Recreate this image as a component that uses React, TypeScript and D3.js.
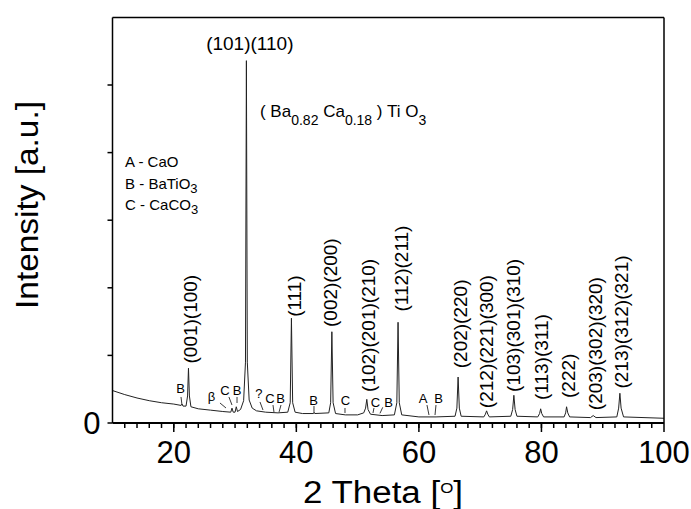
import React from "react";
import * as d3 from "d3";

// XRD pattern: [2θ, intensity]
const pattern: [number, number][] = [
  [10, 0.48], [12, 0.42], [14, 0.37], [16, 0.33], [18, 0.3], [20, 0.28],
  [21.2, 0.26], [21.35, 0.28], [21.5, 0.25], [22.0, 0.25], [22.25, 0.4], [22.4, 0.81],
  [22.55, 0.4], [22.8, 0.24], [24, 0.21], [26, 0.19], [28, 0.17], [29.3, 0.16],
  [29.5, 0.22], [29.7, 0.16], [30.0, 0.16], [30.2, 0.24], [30.4, 0.17], [30.9, 0.2],
  [31.4, 0.33], [31.7, 0.9], [31.85, 5.36], [32.0, 0.9], [32.3, 0.34], [32.8, 0.22],
  [33.5, 0.18], [35, 0.16], [37, 0.15], [38.6, 0.16], [39.0, 0.3], [39.2, 1.55],
  [39.4, 0.3], [39.8, 0.16], [41, 0.14], [42.8, 0.14], [42.9, 0.16], [43.0, 0.14],
  [45.3, 0.15], [45.6, 0.3], [45.8, 1.35], [46.0, 0.3], [46.4, 0.14], [48, 0.12],
  [50, 0.12], [51.0, 0.15], [51.3, 0.22], [51.5, 0.35], [51.7, 0.2], [52.1, 0.13],
  [54, 0.11], [56.0, 0.12], [56.4, 0.3], [56.6, 1.49], [56.8, 0.3], [57.2, 0.12],
  [60, 0.09], [62.8, 0.09], [65.9, 0.1], [66.2, 0.22], [66.4, 0.68], [66.6, 0.22],
  [66.9, 0.1], [70.6, 0.09], [70.85, 0.13], [71.05, 0.18], [71.25, 0.13], [71.5, 0.09],
  [75.0, 0.1], [75.3, 0.2], [75.5, 0.41], [75.7, 0.2], [76.0, 0.1], [79.4, 0.09],
  [79.7, 0.14], [79.87, 0.21], [80.05, 0.14], [80.35, 0.09], [83.7, 0.09], [83.95, 0.15],
  [84.1, 0.24], [84.3, 0.15], [84.6, 0.09], [88.0, 0.08], [88.45, 0.11], [88.9, 0.08],
  [92.3, 0.09], [92.6, 0.22], [92.8, 0.44], [93.0, 0.22], [93.4, 0.09], [100, 0.07],
];

// Vertical (hkl) labels: text, 2θ centre, intensity at the label's lower end
const hklTexts = [
  "(001)(100)", "(111)", "(002)(200)", "(102)(201)(210)", "(112)(211)", "(202)(220)",
  "(212)(221)(300)", "(103)(301)(310)", "(113)(311)", "(222)", "(203)(302)(320)", "(213)(312)(321)",
];
const hklTheta = [22.78, 39.65, 45.63, 51.75, 57.19, 66.71, 71.06, 75.4, 80.04, 84.38, 88.74, 93.09];
const hklBase = [0.88, 1.57, 1.42, 0.46, 1.65, 0.81, 0.22, 0.46, 0.34, 0.37, 0.19, 0.51];

// Main peak label (horizontal)
const mainLabel = { text: "(101)(110)", theta: 32.41, level: 5.52 };

// Phase markers: text, label 2θ, label level, leader from (t1,i1) to (t2,i2)
const markerTexts = ["B", "β", "C", "B", "?", "C", "B", "B", "C", "C", "B", "A", "B"];
const markerTheta = [21.1, 26.16, 28.36, 30.32, 33.9, 35.7, 37.41, 42.8, 48.02, 52.92, 55.04, 60.67, 63.2];
const markerLevel = [0.44, 0.33, 0.41, 0.41, 0.37, 0.3, 0.3, 0.27, 0.27, 0.24, 0.24, 0.3, 0.3];
const leaderFrom: [number, number][] = [
  [21.18, 0.385], [27.54, 0.296], [29.0, 0.385], [30.32, 0.385], [34.07, 0.311], [36.19, 0.266],
  [37.5, 0.266], [42.88, 0.251], [47.94, 0.222], [52.67, 0.222], [54.1, 0.232], [61.32, 0.266], [62.79, 0.266],
];
const leaderTo: [number, number][] = [
  [21.34, 0.266], [28.52, 0.222], [29.5, 0.266], [30.32, 0.296], [34.56, 0.192], [36.35, 0.163],
  [37.18, 0.163], [42.88, 0.163], [47.94, 0.148], [52.51, 0.148], [53.65, 0.143], [61.65, 0.118], [62.63, 0.118],
];

// Legend of phases
const legendLetters = ["A", "B", "C"];
const legendNames = [["CaO", ""], ["BaTiO", "3"], ["CaCO", "3"]];

const xMajorTicks = [20, 40, 60, 80, 100];
const xMinorTicks = d3.range(12, 100, 2);
const yTicks = [0, 1, 2, 3, 4, 5];
const yTickLabels = ["0"];

const W = 691;
const H = 509;
const FONT = "'Liberation Sans', Arial, sans-serif";

export default function App() {
  const x = d3.scaleLinear().domain([10, 100]).range([112.5, 664]);
  const y = d3.scaleLinear().domain([0, 6]).range([423, 17.4]);
  const line = d3
    .line<[number, number]>()
    .x((d) => x(d[0]))
    .y((d) => y(d[1]));

  return (
    <svg
      width={W}
      height={H}
      style={{ position: "absolute", left: 0, top: 0, background: "#fff" }}
      fontFamily={FONT}
    >
      <rect x={0} y={0} width={W} height={H} fill="#fff" />
      {/* pattern */}
      <path d={line(pattern) || ""} fill="none" stroke="#222" strokeWidth={1} />

      {/* frame */}
      <line x1={x(10)} x2={x(100)} y1={y(6)} y2={y(6)} stroke="#000" strokeWidth={1.5} />
      <line x1={x(100)} x2={x(100)} y1={y(6)} y2={y(0)} stroke="#000" strokeWidth={1.5} />
      <line x1={x(10)} x2={x(10)} y1={y(6)} y2={y(0)} stroke="#000" strokeWidth={1.5} />
      <line x1={x(10)} x2={x(100)} y1={y(0)} y2={y(0)} stroke="#000" strokeWidth={2} />

      {/* x ticks */}
      {xMinorTicks.map((t) => (
        <line key={"mi" + t} x1={x(t)} x2={x(t)} y1={y(0)} y2={y(0) + 5} stroke="#000" strokeWidth={1.5} />
      ))}
      {xMajorTicks.map((t) => (
        <g key={"ma" + t}>
          <line x1={x(t)} x2={x(t)} y1={y(0)} y2={y(0) + 9} stroke="#000" strokeWidth={1.5} />
          <text x={x(t)} y={y(0) + 40} textAnchor="middle" fontSize={31} fill="#000">
            {t}
          </text>
        </g>
      ))}
      {/* y ticks */}
      {yTicks.map((t) => (
        <line key={"y" + t} x1={x(10) - 5} x2={x(10)} y1={y(t)} y2={y(t)} stroke="#000" strokeWidth={1.5} />
      ))}
      {yTickLabels.map((l, i) => (
        <text key={"yl" + i} x={x(10) - 12} y={y(+l) + 11} textAnchor="end" fontSize={31} fill="#000">
          {l}
        </text>
      ))}

      {/* axis titles */}
      <text x={303} y={503} fontSize={31} fill="#000" textLength={160} lengthAdjust="spacingAndGlyphs">
        2 Theta [<tspan fontSize={15} dy={-10}>O</tspan>
        <tspan dy={10}>]</tspan>
      </text>
      <text
        transform={`translate(27,205) rotate(-90)`}
        textAnchor="middle"
        dominantBaseline="central"
        fontSize={31}
        fill="#000"
        textLength={208}
        lengthAdjust="spacingAndGlyphs"
      >
        Intensity [a.u.]
      </text>

      {/* hkl labels */}
      {hklTexts.map((t, i) => (
        <text
          key={"h" + i}
          transform={`translate(${x(hklTheta[i])},${y(hklBase[i])}) rotate(-90)`}
          dominantBaseline="central"
          fontSize={19}
          fill="#000"
        >
          {t}
        </text>
      ))}
      <text x={x(mainLabel.theta)} y={y(mainLabel.level)} textAnchor="middle" fontSize={19} fill="#000">
        {mainLabel.text}
      </text>

      {/* formula */}
      <text x={x(34.07)} y={y(4.52)} fontSize={17} fill="#000">
        ( Ba<tspan fontSize={14} dy={8}>0.82</tspan>
        <tspan dy={-8}> Ca</tspan>
        <tspan fontSize={14} dy={8}>0.18</tspan>
        <tspan dy={-8}> ) Ti O</tspan>
        <tspan fontSize={14} dy={8}>3</tspan>
      </text>

      {/* legend */}
      {legendLetters.map((l, i) => (
        <text key={"lg" + i} x={x(12.05)} y={y(3.78 - i * 0.315)} fontSize={15} fill="#000">
          {l} - {legendNames[i][0]}
          {legendNames[i][1] ? (
            <tspan fontSize={13} dy={4}>
              {legendNames[i][1]}
            </tspan>
          ) : null}
        </text>
      ))}

      {/* phase markers */}
      {markerTexts.map((m, i) => (
        <g key={"m" + i}>
          <text x={x(markerTheta[i])} y={y(markerLevel[i])} textAnchor="middle" fontSize={13} fill="#000">
            {m}
          </text>
          <line
            x1={x(leaderFrom[i][0])}
            y1={y(leaderFrom[i][1])}
            x2={x(leaderTo[i][0])}
            y2={y(leaderTo[i][1])}
            stroke="#222"
            strokeWidth={0.9}
          />
        </g>
      ))}
    </svg>
  );
}
